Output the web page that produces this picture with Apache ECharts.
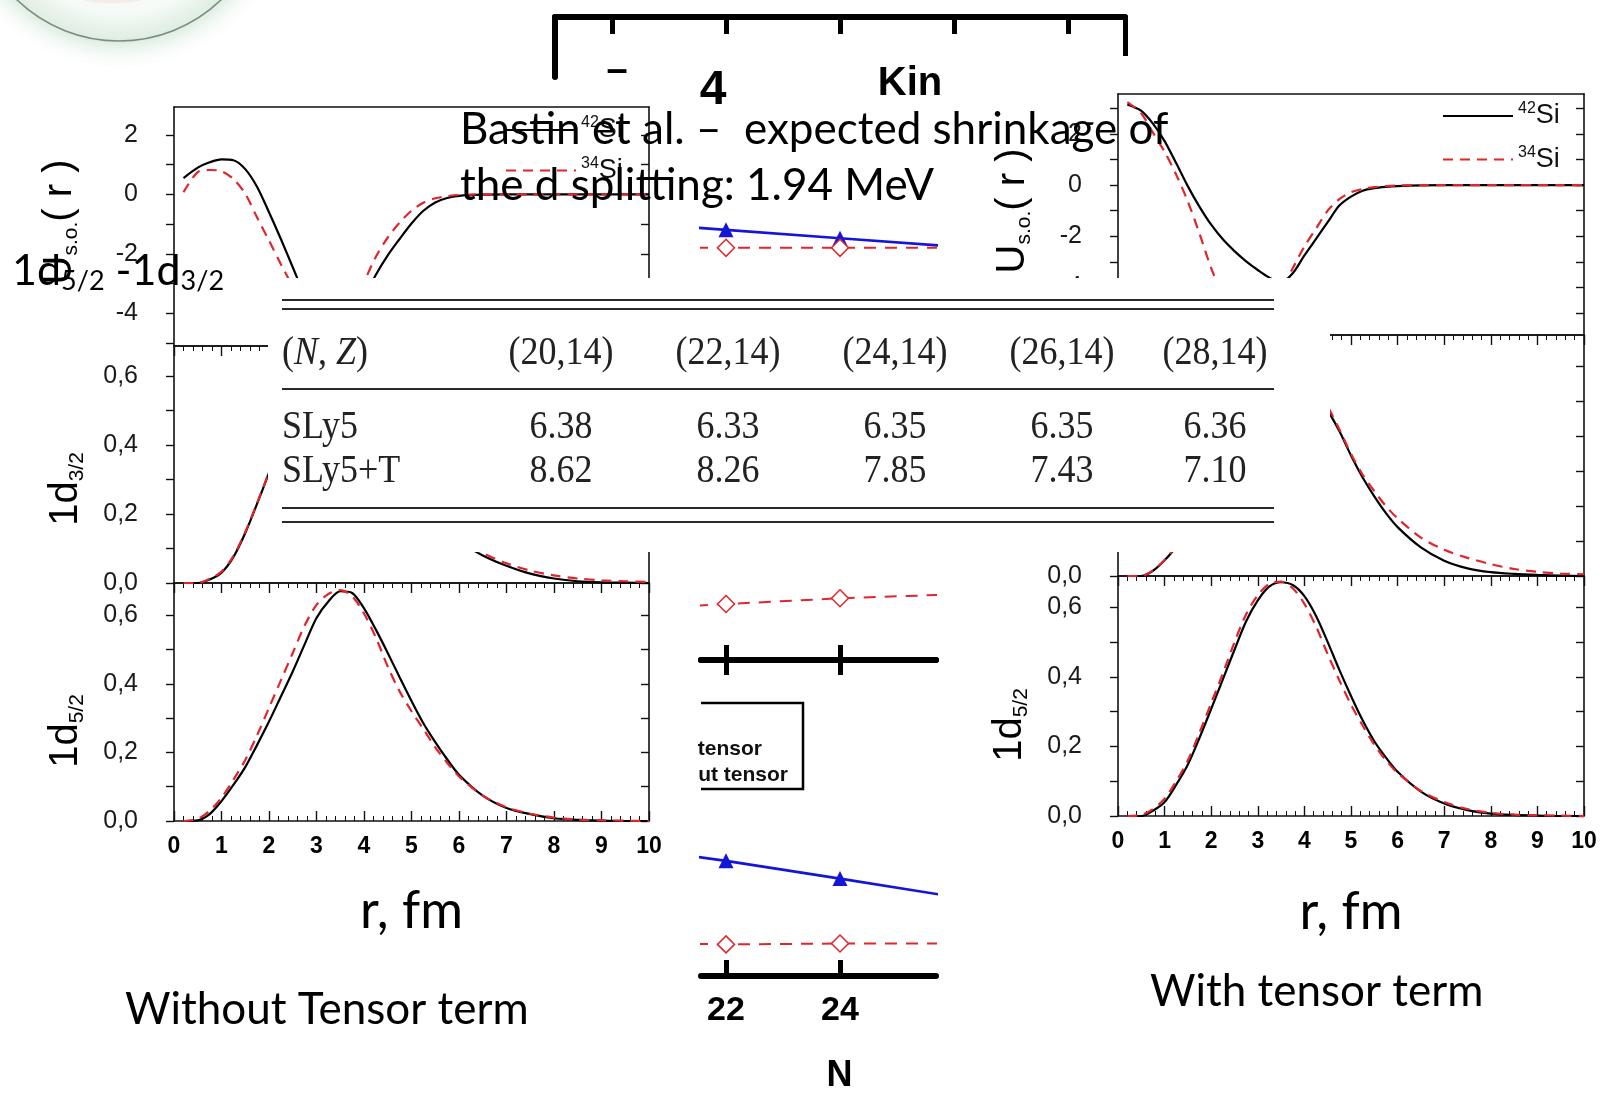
<!DOCTYPE html>
<html>
<head>
<meta charset="utf-8">
<script src="https://cdn.jsdelivr.net/npm/echarts@6/dist/echarts.min.js"></script>
<style>
  html, body { margin: 0; padding: 0; background: #ffffff; }
  #chart { width: 1604px; height: 1095px; }
</style>
</head>
<body>
<div id="chart"></div>
<script>
// ---- radial mesh (fm) shared by every wave-function / potential curve ----
const R = [0.2, 0.5, 0.75, 1, 1.25, 1.5, 1.75, 2, 2.25, 2.5, 2.75, 3, 3.25, 3.5, 3.75, 4,
           4.25, 4.5, 4.75, 5, 5.25, 5.5, 5.75, 6, 6.5, 7, 7.5, 8, 8.5, 9, 9.5, 10];

// spin-orbit potential U_s.o.(r), without tensor term
const uLeft42 = [0.55, 0.9, 1.08, 1.18, 1.15, 0.85, 0.25, -0.6, -1.5, -2.45, -3.4, -4.2, -4.7, -4.8, -4.4, -3.5,
                 -2.7, -2.05, -1.5, -0.98, -0.55, -0.27, -0.12, -0.05, -0.01, 0, 0, 0, 0, 0, 0, 0];
const uLeft34 = [0.07, 0.75, 0.82, 0.78, 0.52, 0.02, -0.78, -1.55, -2.35, -3.1, -3.9, -4.5, -4.75, -4.5, -3.8, -2.95,
                 -2.1, -1.45, -0.95, -0.55, -0.28, -0.13, -0.06, -0.02, 0, 0, 0, 0, 0, 0, 0, 0];
// spin-orbit potential U_s.o.(r), with tensor term
const uRight42 = [3.15, 2.9, 2.4, 1.72, 0.85, -0.05, -0.85, -1.55, -2.12, -2.58, -2.98, -3.32, -3.62, -3.8, -3.45, -2.75,
                  -2.1, -1.45, -0.8, -0.45, -0.22, -0.12, -0.07, -0.04, -0.01, 0, 0, 0, 0, 0, 0, 0];
const uRight34 = [3.24, 2.8, 2.05, 1.3, 0.4, -0.65, -1.9, -3.25, -4.3, -5.0, -5.3, -5.2, -4.8, -4.1, -3.25, -2.4,
                  -1.7, -1.0, -0.55, -0.28, -0.15, -0.08, -0.04, -0.02, 0, 0, 0, 0, 0, 0, 0, 0];

// 1d3/2 radial densities
const dLeft3_42 = [0, 0, 0.01, 0.03, 0.075, 0.145, 0.23, 0.32, 0.42, 0.5, 0.56, 0.6, 0.62, 0.62, 0.6, 0.56,
                   0.5, 0.44, 0.37, 0.3, 0.24, 0.19, 0.15, 0.12, 0.08, 0.05, 0.027, 0.013, 0.005, 0.002, 0.001, 0];
const dLeft3_34 = [0, 0, 0.012, 0.033, 0.078, 0.148, 0.232, 0.322, 0.42, 0.5, 0.56, 0.6, 0.62, 0.62, 0.6, 0.56,
                   0.505, 0.445, 0.38, 0.31, 0.25, 0.2, 0.16, 0.128, 0.087, 0.057, 0.036, 0.022, 0.013, 0.008, 0.005, 0.003];
const dRight3_42 = [0, 0, 0.015, 0.045, 0.085, 0.15, 0.23, 0.32, 0.41, 0.49, 0.55, 0.6, 0.625, 0.63, 0.61, 0.58,
                    0.53, 0.475, 0.415, 0.345, 0.282, 0.228, 0.18, 0.14, 0.082, 0.044, 0.022, 0.011, 0.006, 0.003, 0.001, 0];
const dRight3_34 = [0, 0, 0.016, 0.046, 0.087, 0.152, 0.232, 0.322, 0.412, 0.49, 0.55, 0.6, 0.625, 0.63, 0.61, 0.58,
                    0.535, 0.485, 0.42, 0.35, 0.29, 0.243, 0.2, 0.165, 0.11, 0.075, 0.052, 0.034, 0.02, 0.012, 0.007, 0.005];

// 1d5/2 radial densities
const dLeft5_42 = [0, 0.002, 0.02, 0.058, 0.105, 0.157, 0.222, 0.29, 0.363, 0.436, 0.515, 0.592, 0.64, 0.67, 0.665, 0.62,
                   0.558, 0.49, 0.419, 0.35, 0.285, 0.23, 0.18, 0.135, 0.074, 0.038, 0.02, 0.008, 0.003, 0.001, 0, 0];
const dLeft5_34 = [0, 0.006, 0.03, 0.068, 0.12, 0.178, 0.25, 0.33, 0.41, 0.49, 0.57, 0.63, 0.662, 0.673, 0.655, 0.605,
                   0.535, 0.45, 0.378, 0.32, 0.268, 0.215, 0.17, 0.13, 0.074, 0.04, 0.021, 0.01, 0.004, 0.002, 0.001, 0];
const dRight5_42 = [0, 0, 0.015, 0.04, 0.09, 0.148, 0.225, 0.308, 0.393, 0.478, 0.56, 0.62, 0.66, 0.672, 0.664, 0.632,
                    0.575, 0.5, 0.42, 0.345, 0.275, 0.215, 0.168, 0.127, 0.07, 0.036, 0.017, 0.007, 0.003, 0.001, 0, 0];
const dRight5_34 = [0, 0.003, 0.02, 0.05, 0.1, 0.16, 0.24, 0.325, 0.41, 0.5, 0.58, 0.635, 0.668, 0.674, 0.655, 0.61,
                    0.545, 0.465, 0.39, 0.32, 0.26, 0.205, 0.16, 0.124, 0.072, 0.04, 0.02, 0.009, 0.004, 0.002, 0.001, 0];

// tick sets
const uTickValues = [-5, -4, -3, -2, -1, 0, 1, 2, 3];
const uLabelValues = [-4, -2, 0, 2];
const dTickValues = [0, 0.1, 0.2, 0.3, 0.4, 0.5, 0.6];
const dLabelValues = [0, 0.2, 0.4, 0.6];

// splitting table (MeV)
const nzLabels = ['(20,14)', '(22,14)', '(24,14)', '(26,14)', '(28,14)'];
const sly5 = [6.38, 6.33, 6.35, 6.35, 6.36];
const sly5T = [8.62, 8.26, 7.85, 7.43, 7.10];

// isotope chain plot (N)
const chainN = [20, 22, 24, 26, 28];
const chainTicks = [20, 22, 24, 26, 28];
const chainLabels = [22, 24];
const upperBlue = [6.82, 6.69, 6.56, 6.43, 6.30];
const upperRed = [6.41, 6.41, 6.41, 6.41, 6.41];
const upperRed2 = [0.78, 0.87, 0.96, 1.02, 1.08];

// ---------------------------------------------------------------------------
const INK = '#111111';
const RED = '#e0262b';
const BLUE = '#1515d8';
const sansAxis = 'Liberation Sans, Arial, sans-serif';
const narrow = 'Liberation Sans Narrow, Liberation Sans, Arial, sans-serif';

const panels = [
  { x: [174, 649], y: [107, 346], min: -5.1, max: 2.94, kind: 'U', last: false, gap: 64, a: uLeft42, b: uLeft34 },
  { x: [174, 649], y: [346, 583], min: 0, max: 0.687, kind: 'd', last: false, gap: 64, a: dLeft3_42, b: dLeft3_34 },
  { x: [174, 649], y: [583, 821], min: 0, max: 0.694, kind: 'd', last: true, gap: 64, a: dLeft5_42, b: dLeft5_34 },
  { x: [1118, 1584], y: [94, 335], min: -5.86, max: 3.56, kind: 'U', last: false, gap: 70, a: uRight42, b: uRight34 },
  { x: [1118, 1584], y: [335, 576], min: 0, max: 0.69, kind: 'd', last: false, gap: 70, a: dRight3_42, b: dRight3_34 },
  { x: [1118, 1584], y: [576, 816], min: 0, max: 0.69, kind: 'd', last: true, gap: 70, a: dRight5_42, b: dRight5_34 }
];

const grid = [], xAxis = [], yAxis = [], series = [];
const axisLineStyle = { color: INK, width: 1.6 };

panels.forEach((p, i) => {
  grid.push({ left: p.x[0], top: p.y[0], width: p.x[1] - p.x[0], height: p.y[1] - p.y[0],
              show: true, backgroundColor: '#ffffff', borderWidth: 0 });
  const inRange = v => v >= p.min - 1e-9 && v <= p.max + 1e-9;
  const ticks = (p.kind === 'U' ? uTickValues : dTickValues).filter(inRange);
  const labels = (p.kind === 'U' ? uLabelValues : dLabelValues).filter(inRange);
  const fmt = p.kind === 'U' ? (v => String(v)) : (v => v.toFixed(1).replace('.', ','));

  // bottom r axis (ticks only on the lowest panel; shared edges carry the panel-below ticks)
  xAxis.push({
    gridIndex: i, type: 'value', min: 0, max: 10, interval: 1, position: 'bottom',
    axisLine: { onZero: false, lineStyle: axisLineStyle },
    axisTick: { show: p.last, inside: true, length: 10, lineStyle: { color: INK, width: 1.4 } },
    minorTick: { show: p.last, splitNumber: 5, length: 5, lineStyle: { color: INK, width: 1 } },
    axisLabel: { show: p.last, margin: 14, fontSize: 23, fontWeight: 'bold', color: '#000', fontFamily: sansAxis },
    splitLine: { show: false },
    name: p.last ? 'r, fm' : '', nameLocation: 'middle', nameGap: p.gap,
    nameTextStyle: { fontSize: 52, fontFamily: 'Lato', color: '#000' }
  });
  // top mirror axis
  xAxis.push({
    gridIndex: i, type: 'value', min: 0, max: 10, interval: 1, position: 'top',
    axisLine: { onZero: false, lineStyle: axisLineStyle },
    axisTick: { show: p.kind === 'd', inside: true, length: 10, lineStyle: { color: INK, width: 1.4 } },
    minorTick: { show: p.kind === 'd', splitNumber: 5, length: 5, lineStyle: { color: INK, width: 1 } },
    axisLabel: { show: false }, splitLine: { show: false }
  });
  // left value axis
  yAxis.push({
    gridIndex: i, type: 'value', min: p.min, max: p.max, position: 'left',
    axisLine: { onZero: false, lineStyle: axisLineStyle },
    axisTick: { inside: false, length: 8, customValues: ticks, lineStyle: { color: INK, width: 1.4 } },
    axisLabel: { margin: 36, customValues: labels, formatter: fmt, fontSize: 25, color: '#1a1a1a', fontFamily: sansAxis },
    splitLine: { show: false }
  });
  // right mirror axis
  yAxis.push({
    gridIndex: i, type: 'value', min: p.min, max: p.max, position: 'right',
    axisLine: { onZero: false, lineStyle: axisLineStyle },
    axisTick: { inside: true, length: 8, customValues: ticks, lineStyle: { color: INK, width: 1.4 } },
    axisLabel: { show: false }, splitLine: { show: false }
  });

  series.push({
    type: 'line', name: '42Si', xAxisIndex: 2 * i, yAxisIndex: 2 * i,
    data: R.map((r, k) => [r, p.a[k]]), symbol: 'none', showSymbol: false,
    smooth: 0.3, lineStyle: { color: '#000', width: 2.2 }, itemStyle: { color: '#000' }, z: 3
  });
  series.push({
    type: 'line', name: '34Si', xAxisIndex: 2 * i, yAxisIndex: 2 * i,
    data: R.map((r, k) => [r, p.b[k]]), symbol: 'none', showSymbol: false,
    smooth: 0.3, lineStyle: { color: RED, width: 2.2, type: [10, 7] }, itemStyle: { color: RED }, z: 4
  });
});

// ---- isotope-chain plot: top frame, upper and lower panels ----
const G = 6; // first grid index of this plot
const chainLeft = 555, chainPx = 57;              // N = 19 at x = 555, 57 px per unit N
const winLeft = 701, winRight = 936;
const nLo = 19 + (winLeft - chainLeft) / chainPx;
const nHi = 19 + (winRight - chainLeft) / chainPx;

grid.push({ left: chainLeft, top: 17, width: 570, height: 60 });            // frame
grid.push({ left: winLeft, top: 17, width: winRight - winLeft, height: 643 }); // upper panel
grid.push({ left: winLeft, top: 660, width: winRight - winLeft, height: 320 }); // lower panel

const thick = { color: '#000', width: 6 };
xAxis.push({ gridIndex: G, type: 'value', min: 19, max: 29, position: 'top',
  axisLine: { onZero: false, lineStyle: thick },
  axisTick: { inside: true, length: 17, customValues: chainTicks, lineStyle: { color: '#000', width: 5 } },
  axisLabel: { show: false }, splitLine: { show: false } });
yAxis.push({ gridIndex: G, type: 'value', min: 0, max: 1, position: 'left',
  axisLine: { show: true, onZero: false, lineStyle: thick }, axisTick: { show: false },
  axisLabel: { show: false }, splitLine: { show: false } });
yAxis.push({ gridIndex: G, type: 'value', min: 0, max: 1, position: 'right',
  axisLine: { show: true, onZero: false, lineStyle: { color: '#000', width: 5 } }, axisTick: { show: false },
  axisLabel: { show: false }, splitLine: { show: false } });

xAxis.push({ gridIndex: G + 1, type: 'value', min: nLo, max: nHi, position: 'bottom',
  axisLine: { onZero: false, lineStyle: thick },
  axisTick: { inside: true, length: 15, customValues: chainLabels, lineStyle: { color: '#000', width: 5 } },
  axisLabel: { show: false }, splitLine: { show: false } });
yAxis.push({ gridIndex: G + 1, type: 'value', min: 0, max: 10, show: false });

xAxis.push({ gridIndex: G + 2, type: 'value', min: nLo, max: nHi, position: 'top',
  axisLine: { onZero: false, lineStyle: thick },
  axisTick: { inside: true, length: 15, customValues: chainLabels, lineStyle: { color: '#000', width: 5 } },
  axisLabel: { show: false }, splitLine: { show: false } });
xAxis.push({ gridIndex: G + 2, type: 'value', min: nLo, max: nHi, position: 'bottom',
  axisLine: { onZero: false, lineStyle: thick },
  axisTick: { inside: true, length: 16, customValues: chainLabels, lineStyle: { color: '#000', width: 5 } },
  axisLabel: { customValues: chainLabels, margin: 18, fontSize: 34, fontWeight: 'bold', color: '#000', fontFamily: narrow },
  splitLine: { show: false },
  name: 'N', nameLocation: 'middle', nameGap: 82,
  nameTextStyle: { fontSize: 36, fontWeight: 'bold', fontFamily: narrow, color: '#000', padding: [0, 0, 0, 42] } });
yAxis.push({ gridIndex: G + 2, type: 'value', min: 5.6, max: 12.9, show: false });

const blueStyle = { type: 'line', symbol: 'triangle', symbolSize: 15, showSymbol: true,
  lineStyle: { color: BLUE, width: 2.6 }, itemStyle: { color: BLUE } };
const redStyle = { type: 'line', symbol: 'diamond', symbolSize: 17, showSymbol: true,
  lineStyle: { color: RED, width: 2, type: [12, 9] }, itemStyle: { color: '#ffffff', borderColor: RED, borderWidth: 1.5 } };
const xIdxUpper = 12 + 1, xIdxLower = 12 + 3;
const yIdxUpper = 12 + 2, yIdxLower = 12 + 3;
series.push(Object.assign({ name: 'with tensor', xAxisIndex: xIdxUpper, yAxisIndex: yIdxUpper,
  data: chainN.map((n, k) => [n, upperBlue[k]]) }, blueStyle));
series.push(Object.assign({ name: 'without tensor', xAxisIndex: xIdxUpper, yAxisIndex: yIdxUpper,
  data: chainN.map((n, k) => [n, upperRed[k]]) }, redStyle));
series.push(Object.assign({ name: 'without tensor', xAxisIndex: xIdxUpper, yAxisIndex: yIdxUpper,
  data: chainN.map((n, k) => [n, upperRed2[k]]) }, redStyle));
series.push(Object.assign({ name: 'with tensor', xAxisIndex: xIdxLower, yAxisIndex: yIdxLower,
  data: chainN.map((n, k) => [n, sly5T[k]]) }, blueStyle));
series.push(Object.assign({ name: 'without tensor', xAxisIndex: xIdxLower, yAxisIndex: yIdxLower,
  data: chainN.map((n, k) => [n, sly5[k]]) }, redStyle));

// ---- graphic overlays ----
const subRich = {
  b: { fontSize: 40, fontFamily: sansAxis, color: '#000', lineHeight: 44 },
  s: { fontSize: 21, fontFamily: sansAxis, color: '#000', lineHeight: 44, verticalAlign: 'bottom' }
};
function yName(x, y, text) {
  return { type: 'text', x: x, y: y, rotation: Math.PI / 2, z: 10,
    style: { text: text, rich: subRich, align: 'center', verticalAlign: 'middle', fill: '#000' } };
}

const tableRich = { i: { fontStyle: 'italic', fontFamily: 'Liberation Serif', fontSize: 36, fill: '#222' } };
const tFont = { fontFamily: 'Liberation Serif', fontSize: 36, fill: '#222' };
const colX = [561, 728, 895, 1062, 1215];
const tableEls = [
  { type: 'rect', shape: { x: 268, y: 278, width: 1062, height: 274 }, style: { fill: '#ffffff' }, z: 50 }
];
[300, 309, 389, 508, 522].forEach(y => tableEls.push({ type: 'line', z: 51,
  shape: { x1: 282, y1: y, x2: 1274, y2: y }, style: { stroke: '#2a2a2a', lineWidth: 2 } }));
function cell(x, y, text, align, rich) {
  const st = Object.assign({ text: text, align: align, verticalAlign: 'middle' }, tFont);
  if (rich) st.rich = rich;
  return { type: 'text', x: x, y: y, z: 51, scaleY: 1.12, style: st };
}
tableEls.push(cell(282, 353, '({i|N}, {i|Z})', 'left', tableRich));
tableEls.push(cell(282, 427, 'SLy5', 'left'));
tableEls.push(cell(282, 471, 'SLy5+T', 'left'));
nzLabels.forEach((t, k) => {
  tableEls.push(cell(colX[k], 353, t, 'center'));
  tableEls.push(cell(colX[k], 427, sly5[k].toFixed(2), 'center'));
  tableEls.push(cell(colX[k], 471, sly5T[k].toFixed(2), 'center'));
});

const slide = { fontFamily: 'Lato', fontSize: 44, fill: '#000' };
const graphicEls = [
  // logo circle in the corner
  { type: 'circle', z: 1, shape: { cx: 119, cy: -106, r: 147 },
    style: { fill: new echarts.graphic.RadialGradient(0.5, 0.5, 0.5, [
      { offset: 0, color: '#ffffff' }, { offset: 0.8, color: '#f6fbf7' }, { offset: 1, color: '#e2eee4' }]),
      stroke: '#7c8c7f', lineWidth: 1.6, shadowBlur: 26, shadowColor: 'rgba(110,180,130,0.45)' } },
  { type: 'ellipse', z: 1, shape: { cx: 113, cy: -6, rx: 40, ry: 9 },
    style: { fill: 'rgba(245,160,160,0.16)', shadowBlur: 14, shadowColor: 'rgba(245,160,160,0.3)' } },

  // shorter right leg of the frame
  { type: 'rect', z: 5, shape: { x: 1118, y: 56, width: 14, height: 26 }, style: { fill: '#ffffff' } },

  // frame captions of the isotope-chain plot
  { type: 'text', x: 617, y: 72, z: 60, style: { text: '–', fontFamily: narrow, fontWeight: 'bold', fontSize: 38, fill: '#000', align: 'center', verticalAlign: 'middle' } },
  { type: 'text', x: 713, y: 91, z: 60, style: { text: '4', fontFamily: narrow, fontWeight: 'bold', fontSize: 48, fill: '#000', align: 'center', verticalAlign: 'middle' } },
  { type: 'text', x: 910, y: 84, z: 60, style: { text: 'Kin', fontFamily: narrow, fontWeight: 'bold', fontSize: 40, fill: '#000', align: 'center', verticalAlign: 'middle' } },

  // legend box of the isotope-chain plot
  { type: 'polyline', z: 20, shape: { points: [[701, 703], [803, 703], [803, 789], [701, 789]] },
    style: { stroke: '#000', lineWidth: 2.5, fill: null } },
  { type: 'text', x: 762, y: 749, z: 20, style: { text: 'h tensor', fontFamily: narrow, fontWeight: 'bold', fontSize: 21, fill: '#111', align: 'right', verticalAlign: 'middle' } },
  { type: 'text', x: 788, y: 775, z: 20, style: { text: 'hout tensor', fontFamily: narrow, fontWeight: 'bold', fontSize: 21, fill: '#111', align: 'right', verticalAlign: 'middle' } },
  { type: 'rect', z: 21, shape: { x: 652, y: 730, width: 46, height: 58 }, style: { fill: '#ffffff' } },

  // axis titles
  yName(60, 222, '{b|U}{s|s.o.}{b|( r )}'),
  yName(66, 489, '{b|1d}{s|3/2}'),
  yName(66, 731, '{b|1d}{s|5/2}'),
  yName(1013, 211, '{b|U}{s|s.o.}{b|( r )}'),
  yName(1010, 456, '{b|1d}{s|3/2}'),
  yName(1010, 725, '{b|1d}{s|5/2}')
].concat(tableEls).concat([
  // slide text
  { type: 'text', x: 460, y: 130, z: 60, style: Object.assign({ text: 'Bastin et al. –  expected shrinkage of', verticalAlign: 'middle' }, slide) },
  { type: 'text', x: 460, y: 186, z: 60, style: Object.assign({ text: 'the d splitting: 1.94 MeV', verticalAlign: 'middle' }, slide) },
  { type: 'text', x: 12, y: 271, z: 60, style: { text: '{b|1d}{s|5/2}{b| -1d}{s|3/2}', verticalAlign: 'middle',
      rich: { b: { fontFamily: 'Lato', fontSize: 43, fill: '#000', lineHeight: 48 },
              s: { fontFamily: 'Lato', fontSize: 27, fill: '#000', lineHeight: 48, verticalAlign: 'bottom' } } } },
  { type: 'text', x: 125, y: 1010, z: 60, style: Object.assign({}, slide, { text: 'Without Tensor term', verticalAlign: 'middle' }) },
  { type: 'text', x: 1150, y: 992, z: 60, style: Object.assign({}, slide, { text: 'With tensor term', verticalAlign: 'middle' }) }
]);

const legendRich = {
  sup: { fontSize: 16, fontFamily: sansAxis, color: '#111', verticalAlign: 'top', lineHeight: 30 },
  el: { fontSize: 27, fontFamily: sansAxis, color: '#111', lineHeight: 30 }
};
const legendFmt = name => name.replace(/^(\d+)(\D+)$/, '{sup|$1}{el|$2}');
const legendBase = { orient: 'vertical', data: ['42Si', '34Si'], itemWidth: 70, itemHeight: 14,
  formatter: legendFmt, textStyle: { rich: legendRich }, selectedMode: false,
  itemStyle: { opacity: 0 } };

const option = {
  animation: false,
  backgroundColor: '#ffffff',
  grid: grid,
  xAxis: xAxis,
  yAxis: yAxis,
  legend: [
    Object.assign({ left: 500, top: 110, itemGap: 12 }, legendBase),
    Object.assign({ left: 1437, top: 96, itemGap: 15 }, legendBase)
  ],
  series: series,
  graphic: { elements: graphicEls }
};

const chart = echarts.init(document.getElementById('chart'), null, { renderer: 'canvas' });
chart.setOption(option);
</script>
</body>
</html>
